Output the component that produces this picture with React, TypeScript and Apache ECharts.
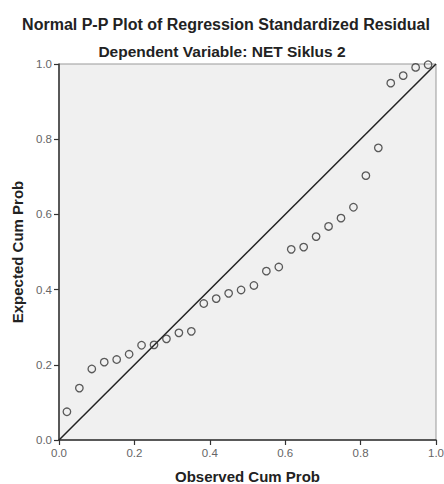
import React, { useEffect, useRef } from "react";
import * as echarts from "echarts";

const observedCumProb = [
  0.021, 0.054, 0.087, 0.12, 0.153, 0.186, 0.219, 0.252, 0.285, 0.318,
  0.351, 0.384, 0.417, 0.45, 0.483, 0.517, 0.55, 0.583, 0.616, 0.649,
  0.682, 0.715, 0.748, 0.781, 0.814, 0.847, 0.88, 0.913, 0.946, 0.979,
];
const expectedCumProb = [
  0.075, 0.138, 0.189, 0.207, 0.214, 0.228, 0.252, 0.253, 0.269, 0.285,
  0.289, 0.363, 0.376, 0.39, 0.399, 0.411, 0.449, 0.46, 0.507, 0.513,
  0.541, 0.568, 0.59, 0.619, 0.703, 0.777, 0.949, 0.969, 0.991, 0.998,
];
const referenceLine = [
  [0, 0],
  [1, 1],
];
const tickValues = [0, 0.2, 0.4, 0.6, 0.8, 1.0];

const TITLE = "Normal P-P Plot of Regression Standardized Residual";
const SUBTITLE = "Dependent Variable: NET Siklus 2";
const X_NAME = "Observed Cum Prob";
const Y_NAME = "Expected Cum Prob";

const FONT = "'Liberation Sans', Arial, sans-serif";

export default function App() {
  const ref = useRef<HTMLDivElement>(null);
  useEffect(() => {
    if (!ref.current) return;
    const chart = echarts.init(ref.current, null, { renderer: "svg" });
    const points = observedCumProb.map((x, i) => [x, expectedCumProb[i]]);
    const axisCommon = {
      type: "value",
      min: 0,
      max: 1,
      interval: 0.2,
      axisLine: { show: true, onZero: false, lineStyle: { color: "#333", width: 1.5 } },
      axisTick: { show: true, length: 5, lineStyle: { color: "#333", width: 1.2 } },
      splitLine: { show: false },
      axisLabel: {
        color: "#666",
        fontSize: 11.5,
        fontFamily: FONT,
        formatter: (v: number) => (tickValues.includes(Math.round(v * 10) / 10) ? v.toFixed(1) : ""),
      },
      nameTextStyle: { color: "#222", fontSize: 15, fontWeight: "bold", fontFamily: FONT },
    };
    chart.setOption({
      animation: false,
      backgroundColor: "#ffffff",
      title: [
        {
          text: TITLE,
          left: 221,
          top: 11,
          textAlign: "center",
          textStyle: { fontSize: 16, fontWeight: "bold", color: "#222", fontFamily: FONT },
        },
        {
          text: SUBTITLE,
          left: 217,
          top: 38,
          textAlign: "center",
          textStyle: { fontSize: 15.5, fontWeight: "bold", color: "#222", fontFamily: FONT },
        },
      ],
      grid: {
        left: 59,
        right: 8,
        top: 64,
        bottom: 44,
        outerBoundsMode: "none",
        containLabel: false,
        show: true,
        backgroundColor: "#f0f0f0",
        borderColor: "#999",
        borderWidth: 1,
      },
      xAxis: {
        ...axisCommon,
        name: X_NAME,
        nameLocation: "middle",
        nameGap: 29,
        axisLabel: { ...axisCommon.axisLabel, margin: 7 },
      },
      yAxis: {
        ...axisCommon,
        name: Y_NAME,
        nameLocation: "middle",
        nameGap: 34,
        nameRotate: 90,
        axisLabel: { ...axisCommon.axisLabel, margin: 7 },
      },
      series: [
        {
          type: "line",
          data: referenceLine,
          symbol: "none",
          lineStyle: { color: "#222", width: 1.5 },
          z: 2,
        },
        {
          type: "scatter",
          data: points,
          symbol: "circle",
          symbolSize: 7.5,
          itemStyle: { color: "rgba(0,0,0,0)", borderColor: "#333", borderWidth: 1.3 },
          z: 3,
        },
      ],
    });
    return () => chart.dispose();
  }, []);
  return <div ref={ref} style={{ width: 444, height: 484, position: "absolute", left: 0, top: 0 }} />;
}
